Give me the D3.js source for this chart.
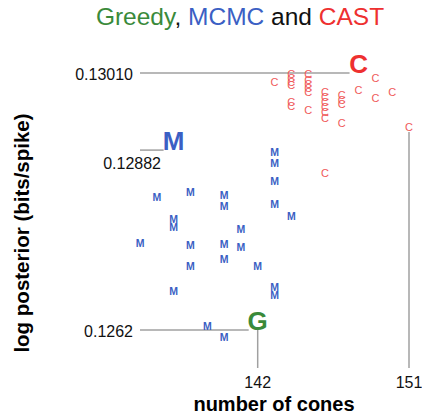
<!DOCTYPE html>
<html>
<head>
<meta charset="utf-8">
<script src="https://cdn.jsdelivr.net/npm/d3@7"></script>
<style>
    body { margin: 0; background: #fff; }
    svg text { font-family: "Liberation Sans", Arial, Helvetica, sans-serif; }
</style>
</head>
<body>
<svg id="chart" width="422" height="418"></svg>
<script>
// MCMC samples: number of cones / log posterior
const mcmcCones = [143, 143, 143, 143, 144, 136, 138, 140, 140, 137, 137, 141,
    135, 138, 140, 141, 140, 138, 142, 137, 143, 143, 139, 140];
const mcmcLogPost = [0.12889, 0.12873, 0.12845, 0.12811, 0.12792, 0.12822, 0.12829, 0.12825,
    0.12807, 0.12788, 0.12776, 0.12773, 0.12752, 0.12749, 0.12750, 0.12746,
    0.12728, 0.12717, 0.12717, 0.12679, 0.12685, 0.12673, 0.12625, 0.12609];

// CAST samples
const castCones = [143, 144, 144, 144, 144, 144, 144, 145, 145, 145, 145, 145, 145,
    146, 146, 146, 146, 146, 146, 147, 147, 147, 147, 148, 149, 149, 150, 151, 146];
const castLogPost = [0.12996, 0.13009, 0.13002, 0.12996, 0.12992, 0.12966, 0.12960,
    0.13009, 0.12999, 0.12993, 0.12987, 0.12981, 0.12954,
    0.12981, 0.12974, 0.12966, 0.12958, 0.12951, 0.12942,
    0.12977, 0.12969, 0.12963, 0.12934, 0.12984, 0.13002, 0.12972, 0.12981, 0.12928, 0.12858];

// best solution of each method
const bestNames = ["G", "M", "C"];
const bestColors = ["#3a8a3a", "#3b5fc4", "#ee3030"];
const bestCones = [142, 137, 148];
const bestLogPost = [0.12620, 0.12893, 0.13010];
const yTickLabels = ["0.1262", "0.12882", "0.13010"];
const xTickValues = [142, 151];

const svg = d3.select("#chart");

const x = d3.scaleLinear().domain([135, 151]).range([140, 409]);
const y = d3.scaleLinear().domain([0.12620, 0.13010]).range([330, 73]);
const bottom = 368;

// title
const title = svg.append("text")
    .attr("x", 240)
    .attr("y", 25)
    .attr("text-anchor", "middle")
    .style("font-size", "24.5px");
title.append("tspan").attr("fill", bestColors[0]).text("Greedy");
title.append("tspan").attr("fill", "#111").text(", ");
title.append("tspan").attr("fill", bestColors[1]).text("MCMC");
title.append("tspan").attr("fill", "#111").text(" and ");
title.append("tspan").attr("fill", bestColors[2]).text("CAST");

// axis titles
svg.append("text")
    .attr("x", 274)
    .attr("y", 411)
    .attr("text-anchor", "middle")
    .style("font-size", "20px")
    .style("font-weight", "bold")
    .text("number of cones");

svg.append("text")
    .attr("transform", "translate(29,233) rotate(-90)")
    .attr("text-anchor", "middle")
    .style("font-size", "20.5px")
    .style("font-weight", "bold")
    .text("log posterior (bits/spike)");

// guide lines for best points
const halfWidth = [9, 10, 9];
svg.selectAll(".hline")
    .data(bestNames)
    .enter()
    .append("line")
    .attr("class", "hline")
    .attr("x1", 140)
    .attr("x2", (d, i) => x(bestCones[i]) - halfWidth[i])
    .attr("y1", (d, i) => y(bestLogPost[i]))
    .attr("y2", (d, i) => y(bestLogPost[i]))
    .attr("stroke", "#a0a0a0")
    .attr("stroke-width", 1.5);

svg.selectAll(".ylabel")
    .data(yTickLabels)
    .enter()
    .append("text")
    .attr("class", "ylabel")
    .attr("x", (d, i) => i === 1 ? 161 : 133)
    .attr("y", (d, i) => y(bestLogPost[i]) + (i === 1 ? 13 : 1))
    .attr("dy", "0.35em")
    .attr("text-anchor", "end")
    .style("font-size", "16px")
    .attr("fill", "#111")
    .text(d => d);

// vertical guides down to x labels
const xStart = [y(bestLogPost[0]), y(castLogPost[castCones.indexOf(151)]) + 5];
svg.selectAll(".vline")
    .data(xTickValues)
    .enter()
    .append("line")
    .attr("class", "vline")
    .attr("x1", d => x(d))
    .attr("x2", d => x(d))
    .attr("y1", (d, i) => xStart[i])
    .attr("y2", bottom)
    .attr("stroke", "#a0a0a0")
    .attr("stroke-width", 1.5);

svg.selectAll(".xlabel")
    .data(xTickValues)
    .enter()
    .append("text")
    .attr("class", "xlabel")
    .attr("x", d => x(d))
    .attr("y", 388)
    .attr("text-anchor", "middle")
    .style("font-size", "16px")
    .attr("fill", "#111")
    .text(d => d);

// samples
svg.selectAll(".mcmc")
    .data(mcmcCones)
    .enter()
    .append("text")
    .attr("class", "mcmc")
    .attr("x", d => x(d))
    .attr("y", (d, i) => y(mcmcLogPost[i]))
    .attr("dy", "0.35em")
    .attr("text-anchor", "middle")
    .style("font-size", "10.5px")
    .style("font-weight", "bold")
    .attr("fill", bestColors[1])
    .text("M");

svg.selectAll(".cast")
    .data(castCones)
    .enter()
    .append("text")
    .attr("class", "cast")
    .attr("x", d => x(d))
    .attr("y", (d, i) => y(castLogPost[i]))
    .attr("dy", "0.35em")
    .attr("text-anchor", "middle")
    .style("font-size", "11px")
    .attr("fill", "#f05a5a")
    .text("C");

// best letters
svg.selectAll(".best")
    .data(bestNames)
    .enter()
    .append("text")
    .attr("class", "best")
    .attr("x", (d, i) => x(bestCones[i]))
    .attr("y", (d, i) => y(bestLogPost[i]))
    .attr("text-anchor", "middle")
    .style("font-size", "26px")
    .style("font-weight", "bold")
    .attr("fill", (d, i) => bestColors[i])
    .text(d => d);
</script>
</body>
</html>
